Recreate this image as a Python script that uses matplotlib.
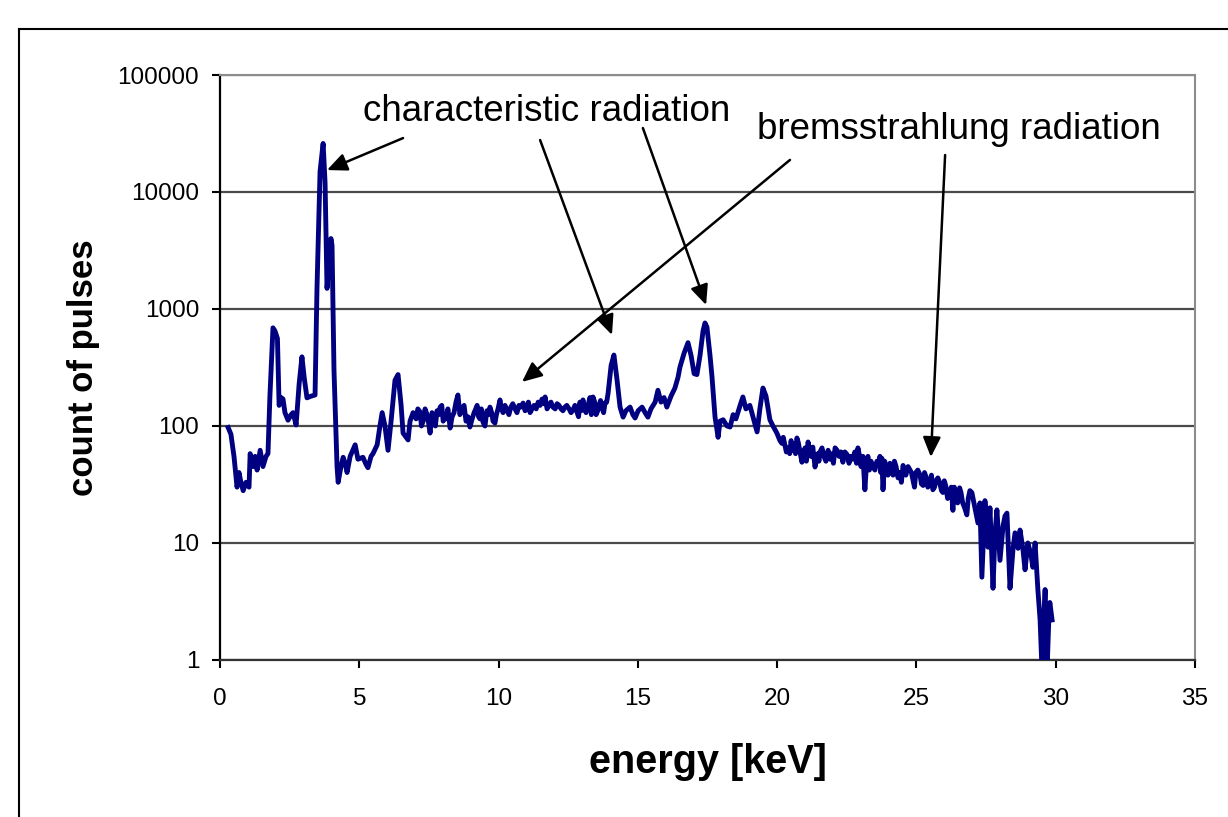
import matplotlib
matplotlib.use('Agg')
import matplotlib.pyplot as plt
from matplotlib.lines import Line2D

plt.rcParams['font.family'] = ['Liberation Sans', 'DejaVu Sans']

# spectrum (energy in keV, counts)
energy = [0.29, 0.39, 0.50, 0.61, 0.68, 0.75, 0.83, 0.93, 1.04, 1.08, 1.18, 1.26, 1.33, 1.44,
          1.54, 1.65, 1.72, 1.79, 1.90, 1.97, 2.06, 2.12, 2.19, 2.26, 2.33, 2.44, 2.55, 2.62,
          2.73, 2.84, 2.94, 3.02, 3.12, 3.27, 3.41, 3.48, 3.59, 3.70, 3.77, 3.84, 3.91, 3.98,
          4.02, 4.09, 4.20, 4.24, 4.34, 4.42, 4.49, 4.56, 4.67, 4.85, 4.95, 5.13, 5.24, 5.31,
          5.42, 5.49, 5.64, 5.74, 5.82, 5.92, 6.03, 6.14, 6.28, 6.39, 6.50, 6.57, 6.68, 6.75,
          6.82, 6.93, 7.04, 7.18, 7.29, 7.43, 7.54, 7.68, 7.79, 7.90, 8.01, 8.11, 8.26, 8.40,
          8.54, 8.69, 8.83, 8.97, 9.12, 9.23, 9.33, 9.44, 9.58, 9.69, 9.80, 9.87, 9.98, 10.05,
          10.16, 10.30, 10.44, 10.59, 10.73, 10.88, 11.02, 11.13, 11.27, 11.42, 11.56, 11.67,
          11.81, 11.95, 12.10, 12.24, 12.38, 12.53, 12.67, 12.82, 12.92, 13.03, 13.14, 13.28,
          13.39, 13.50, 13.61, 13.71, 13.82, 13.93, 14.04, 14.14, 14.25, 14.36, 14.47, 14.57,
          14.72, 14.82, 14.90, 15.01, 15.15, 15.26, 15.36, 15.47, 15.62, 15.72, 15.83, 15.94,
          16.04, 16.19, 16.33, 16.44, 16.51, 16.66, 16.80, 16.91, 17.02, 17.12, 17.23, 17.34,
          17.41, 17.48, 17.59, 17.66, 17.77, 17.88, 17.95, 18.06, 18.20, 18.31, 18.42, 18.52,
          18.67, 18.77, 18.88, 19.02, 19.13, 19.28, 19.38, 19.49, 19.60, 19.74, 19.85, 19.99,
          20.10, 20.17, 20.28, 20.39, 20.50, 20.60, 20.71, 20.82, 20.89, 21.00, 21.11, 21.21,
          21.36, 21.46, 21.54, 21.68, 21.83, 21.97, 22.08, 22.22, 22.36, 22.51, 22.65, 22.79,
          22.90, 23.01, 23.15, 23.26, 23.37, 23.44, 23.58, 23.69, 23.76, 23.80, 23.91, 24.05,
          24.16, 24.27, 24.41, 24.52, 24.62, 24.77, 24.87, 24.98, 25.13, 25.24, 25.34, 25.49,
          25.59, 25.70, 25.84, 25.95, 26.05, 26.20, 26.31, 26.41, 26.55, 26.66, 26.81, 26.92,
          26.99, 27.10, 27.21, 27.28, 27.35, 27.46, 27.53, 27.57, 27.64, 27.75, 27.82, 27.89,
          28.00, 28.11, 28.18, 28.25, 28.36, 28.47, 28.54, 28.65, 28.72, 28.82, 28.90, 29.00,
          29.11, 29.18, 29.26, 29.36, 29.44, 29.51, 29.58, 29.62, 29.69, 29.76, 29.79, 29.87]
counts = [97, 85, 55, 30, 40, 33, 28, 33, 30, 58, 45, 55, 42, 62,
          45, 55, 58, 180, 690, 650, 560, 150, 175, 170, 130, 112, 125, 130,
          102, 230, 390, 260, 174, 180, 184, 1500, 15000, 26000, 12000, 1500, 2500, 4000,
          3500, 300, 45, 33, 45, 54, 48, 40, 55, 69, 52, 54, 47, 44,
          55, 58, 69, 100, 130, 100, 62, 110, 246, 275, 150, 87, 80, 76,
          110, 130, 115, 132, 110, 125, 87, 120, 135, 145, 110, 115, 96, 130,
          184, 140, 110, 98, 130, 150, 115, 108, 135, 145, 110, 106, 140, 167,
          130, 137, 145, 140, 150, 157, 140, 130, 150, 160, 170, 177,
          150, 145, 155, 140, 145, 140, 137, 130, 160, 167, 130, 175,
          177, 125, 150, 145, 157, 190, 330, 404, 250, 145, 119, 135,
          145, 125, 117, 135, 145, 130, 119, 140, 160, 202, 160, 175,
          145, 180, 211, 260, 318, 420, 515, 400, 280, 275, 400, 650,
          760, 700, 400, 265, 119, 80, 110, 113, 100, 98, 125, 115,
          150, 177, 140, 150, 120, 89, 140, 211, 180, 113, 100, 87,
          75, 71, 68, 65, 75, 70, 79, 60, 49, 65, 73, 55,
          44.6, 58, 60, 55, 62, 58, 65, 55, 49, 57, 55, 60,
          65, 45, 28.5, 55, 50, 44.6, 50, 55, 53, 28.5, 45, 48,
          38, 45, 40, 46, 38, 42, 35, 40, 38, 31, 37, 34,
          28.5, 34, 32.5, 27, 31, 26, 19, 26, 29.6, 22, 17.4, 28,
          27, 20, 14.8, 22, 5.1, 23, 15, 9.2, 20, 4.1, 12, 19.2,
          7.1, 14, 17, 18, 4.1, 9, 12.2, 9, 12.9, 9, 5.9, 10,
          8, 6.2, 10, 4, 2.2, 0.8, 2.5, 4.0, 0.8, 2.5, 3.1, 2.2]

# extra channel-to-channel jitter read in the flat parts
energy_jitter = [7.10, 7.23, 7.36, 7.49, 7.61, 7.73, 7.85, 7.96, 8.06, 8.18, 8.33, 8.47, 8.61,
                 8.76, 8.90, 9.05, 9.18, 9.28, 9.38, 9.51, 9.63, 9.75, 9.92, 10.10, 10.23,
                 10.37, 10.51, 10.66, 10.80, 10.95, 11.07, 11.20, 11.35, 11.49, 11.62, 11.74,
                 11.88, 12.03, 12.17, 12.31, 12.45, 12.60, 12.74, 12.87, 12.97, 13.08, 13.21,
                 13.33, 13.45, 13.56, 13.66, 13.77, 13.88,
                 20.22, 20.33, 20.45, 20.55, 20.66, 20.76, 20.95, 21.05, 21.16, 21.28, 21.41,
                 21.50, 21.61, 21.75, 21.90, 22.02, 22.15, 22.29, 22.43, 22.58, 22.72, 22.85,
                 22.96, 23.08, 23.21, 23.31, 23.51, 23.63, 23.72, 23.86, 23.98, 24.10, 24.21,
                 24.34, 24.46, 24.57, 24.70, 24.82, 24.93, 25.05, 25.18, 25.29, 25.41, 25.54,
                 25.65, 25.77, 25.90, 26.00, 26.12, 26.25, 26.36, 26.48, 26.60, 26.73, 26.86]
counts_jitter = [140, 100, 140, 105, 130, 100, 125, 150, 120, 140, 120, 160, 125,
                 150, 120, 115, 140, 120, 140, 100, 125, 130, 125, 140, 150,
                 125, 155, 130, 145, 135, 160, 140, 140, 150, 155, 140,
                 160, 140, 150, 135, 150, 130, 150, 120, 135, 140, 150,
                 125, 160, 135, 165, 130, 160,
                 80, 60, 58, 62, 58, 72, 58, 50, 62, 66, 52,
                 50, 65, 50, 52, 48, 62, 60, 60, 48, 52, 48,
                 55, 55, 48, 42, 42, 47, 40, 50, 38, 42, 50,
                 36, 33, 42, 45, 40, 30, 42, 32, 40, 30, 38,
                 30, 36, 28, 34, 24, 30, 30, 22, 27, 20, 24]

x_ticks = [0, 5, 10, 15, 20, 25, 30, 35]
y_ticks = [1, 10, 100, 1000, 10000, 100000]

spectrum = sorted(zip(energy + energy_jitter, counts + counts_jitter))
xs = [p[0] for p in spectrum]
ys = [p[1] for p in spectrum]

fig = plt.figure(figsize=(12.28, 8.17), dpi=100)
ax = fig.add_axes([0.1792, 0.1922, 0.7939, 0.7160])

ax.plot(xs, ys, color='#000080', lw=3.5, solid_joinstyle='round', zorder=3)

ax.set_yscale('log')
ax.set_xlim(0, 35)
ax.set_ylim(1, 100000)
ax.set_xticks(x_ticks)
ax.set_xticklabels([str(t) for t in x_ticks])
ax.set_yticks(y_ticks)
ax.set_yticklabels([str(t) for t in y_ticks])
ax.minorticks_off()
ax.tick_params(axis='both', direction='out', length=6, width=1.5, labelsize=17.5, colors='black')
ax.tick_params(axis='x', pad=14)
ax.tick_params(axis='y', pad=9)

ax.grid(axis='y', color='#4a4a4a', lw=1.6, zorder=1)
ax.set_axisbelow(True)
ax.spines['left'].set_color('black')
ax.spines['left'].set_linewidth(1.6)
ax.spines['bottom'].set_color('#333333')
ax.spines['bottom'].set_linewidth(1.6)
ax.spines['top'].set_color('#8c8c8c')
ax.spines['top'].set_linewidth(1.5)
ax.spines['right'].set_color('#8c8c8c')
ax.spines['right'].set_linewidth(1.5)

ax.set_xlabel('energy [keV]', fontsize=28.5, fontweight='bold', labelpad=24)
ax.set_ylabel('count of pulses', fontsize=25, fontweight='bold', labelpad=13)

# annotations
ax.text(11.74, 48300, 'characteristic radiation', fontsize=26.5, ha='center', va='center')
ax.text(26.53, 33900, 'bremsstrahlung radiation', fontsize=26.5, ha='center', va='center')

arrows = [
    ((3.84, 15400), (6.57, 28900)),
    ((14.07, 600), (11.49, 27800)),
    ((17.45, 1082), (15.18, 35200)),
    ((10.84, 238), (20.46, 18800)),
    ((25.52, 54.3), (26.03, 20700)),
]
for head, tail in arrows:
    ax.annotate('', xy=head, xytext=tail,
                arrowprops=dict(arrowstyle='-|>,head_length=0.6,head_width=0.27',
                                mutation_scale=20, lw=1.8, color='black',
                                shrinkA=0, shrinkB=0))

# outer frame
x0 = 19 / 1228
y0 = 1 - 29 / 817
fig.add_artist(Line2D([x0, x0], [0, y0], transform=fig.transFigure, color='black', lw=1.5))
fig.add_artist(Line2D([x0, 1], [y0, y0], transform=fig.transFigure, color='black', lw=1.5))

plt.savefig('out.png', dpi=100)
